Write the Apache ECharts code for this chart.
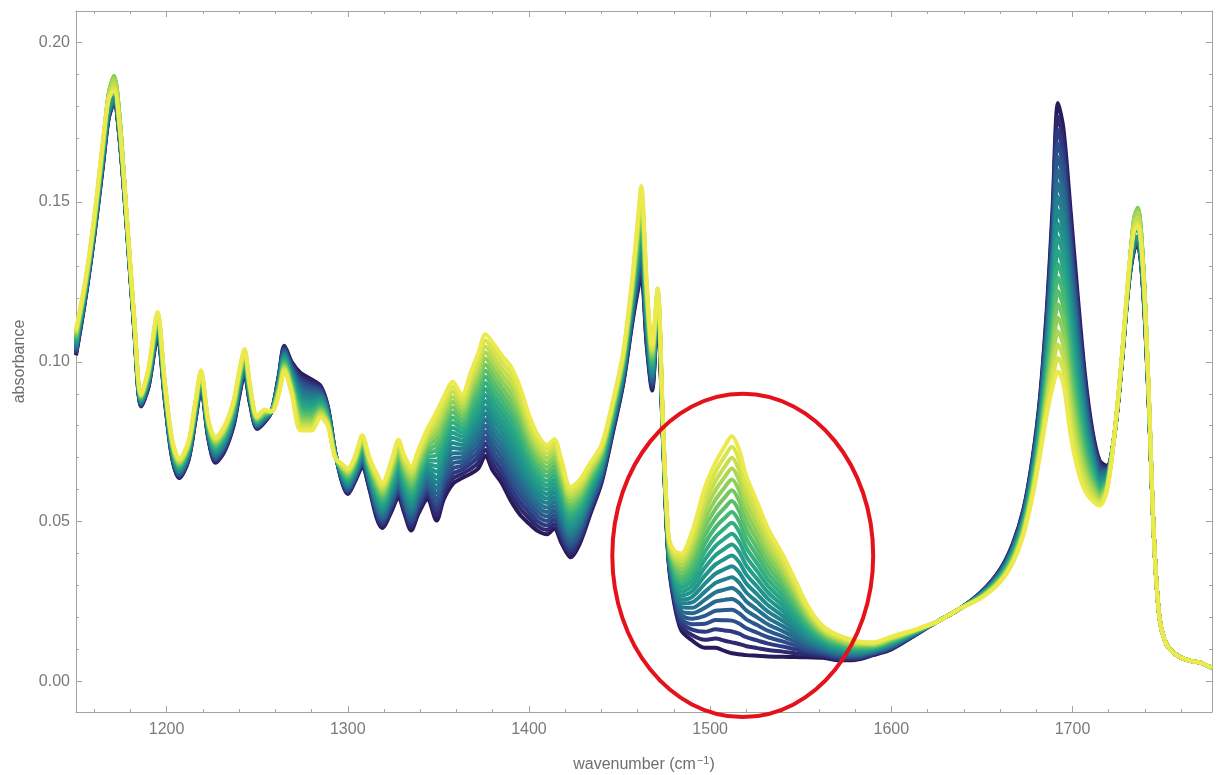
<!DOCTYPE html>
<html>
<head>
<meta charset="utf-8">
<script src="https://cdn.jsdelivr.net/npm/echarts@6/dist/echarts.min.js"></script>
<style>
  html, body { margin: 0; padding: 0; background: #ffffff; }
  #chart { width: 1218px; height: 775px; }
</style>
</head>
<body>
<div id="chart"></div>
<script>
// Wavenumber grid (cm^-1) shared by every scan
const wavenumber = [
  1150,1155,1160,1165,1168,1171,1174,1178,1182,1186,
  1190,1195,1199,1203,1207,1212,1216,1219,1223,1227,
  1232,1237,1240,1243,1246,1250,1254,1258,1262,1265,
  1269,1274,1280,1285,1289,1293,1297,1300,1304,1308,
  1312,1316,1319,1324,1328,1331,1335,1339,1344,1349,
  1353,1358,1363,1368,1372,1376,1380,1385,1390,1395,
  1400,1405,1410,1414,1418,1423,1428,1434,1440,1446,
  1452,1457,1460,1462,1465,1468,1471,1474,1477,1480,
  1484,1490,1497,1503,1508,1512,1516,1520,1526,1532,
  1540,1547,1554,1562,1570,1580,1590,1600,1612,1625,
  1638,1650,1660,1667,1673,1678,1682,1686,1689,1692,
  1695,1699,1703,1707,1711,1715,1719,1723,1727,1731,
  1734,1736,1739,1742,1745,1748,1752,1758,1765,1771,
  1777
];

// Absorbance of each scan, in units of 1e-4, first scan to last
const scan01 = [1020,1190,1390,1620,1760,1810,1700,1420,1110,860,920,1076,880,700,636,690,820,914,760,684,720,800,890,960,870,790,810,845,960,1050,1000,965,945,925,860,720,620,586,625,670,600,510,480,530,576,530,472,525,570,503,570,618,636,650,666,706,660,620,565,522,494,470,460,478,432,388,430,525,620,770,930,1120,1220,1270,1050,910,1150,750,380,250,160,128,105,105,95,88,85,82,80,78,77,76,75,74,66,67,82,100,140,186,228,282,350,430,540,700,885,1180,1480,1810,1730,1470,1200,955,785,690,675,765,980,1240,1350,1365,1220,880,445,200,115,80,64,58,42];
const scan02 = [1024,1193,1393,1624,1763,1812,1702,1422,1112,862,923,1080,883,703,639,693,823,917,763,688,724,804,894,964,873,792,812,845,957,1046,995,956,937,920,857,719,623,590,629,675,605,517,487,538,585,539,482,535,581,520,586,634,649,666,684,725,680,640,586,542,511,485,474,492,445,399,440,533,626,775,935,1127,1231,1284,1060,917,1154,753,384,258,172,145,130,134,127,122,117,110,104,98,93,88,83,79,70,70,84,102,141,186,228,281,348,427,536,694,876,1163,1452,1768,1690,1435,1173,937,774,683,671,765,981,1242,1353,1368,1223,882,445,200,115,80,64,58,42];
const scan03 = [1028,1196,1396,1628,1766,1814,1704,1424,1114,864,926,1084,886,706,642,696,826,920,766,692,728,808,898,968,876,794,814,845,954,1042,990,947,929,915,854,718,626,594,633,680,610,524,494,546,594,548,492,545,592,537,602,650,662,682,702,744,700,660,607,562,528,500,488,506,458,410,450,541,632,780,940,1134,1242,1298,1070,924,1158,756,388,266,184,162,155,163,159,156,149,138,128,118,109,100,91,84,74,73,86,104,142,186,228,280,346,424,532,688,867,1146,1424,1726,1650,1400,1146,919,763,676,667,765,982,1244,1356,1371,1226,884,445,200,115,80,64,58,42];
const scan04 = [1032,1199,1399,1632,1769,1816,1706,1426,1116,866,929,1088,889,709,645,699,829,923,769,696,732,812,902,972,879,796,816,845,951,1038,985,938,921,910,851,717,629,598,637,685,615,531,501,554,603,557,502,555,603,554,618,666,675,698,720,763,720,680,628,582,545,515,502,520,471,421,460,549,638,785,945,1141,1253,1312,1080,931,1162,759,392,274,196,179,180,192,191,190,181,166,152,138,125,112,99,89,78,76,88,106,143,186,228,279,344,421,528,682,858,1129,1396,1684,1610,1365,1119,901,752,669,663,765,983,1246,1359,1374,1229,886,445,200,115,80,64,58,42];
const scan05 = [1036,1202,1402,1636,1772,1818,1708,1428,1118,868,932,1092,892,712,648,702,832,926,772,700,736,816,906,976,882,798,818,845,948,1034,980,929,913,905,848,716,632,602,641,690,620,538,508,562,612,566,512,565,614,571,634,682,688,714,738,782,740,700,649,602,562,530,516,534,484,432,470,557,644,790,950,1148,1264,1326,1090,938,1166,762,396,282,208,196,205,221,223,224,213,194,176,158,141,124,107,94,82,79,90,108,144,186,228,278,342,418,524,676,849,1112,1368,1642,1570,1330,1092,883,741,662,659,765,984,1248,1362,1377,1232,888,445,200,115,80,64,58,42];
const scan06 = [1040,1205,1405,1640,1775,1820,1710,1430,1120,870,935,1096,895,715,651,705,835,929,775,704,740,820,910,980,885,800,820,845,945,1030,975,920,905,900,845,715,635,606,645,695,625,545,515,570,621,575,522,575,625,588,650,698,701,730,756,801,760,720,670,622,579,545,530,548,497,443,480,565,650,795,955,1155,1275,1340,1100,945,1170,765,400,290,220,213,230,250,255,258,245,222,200,178,157,136,115,99,86,82,92,110,145,186,228,277,340,415,520,670,840,1095,1340,1600,1530,1295,1065,865,730,655,655,765,985,1250,1365,1380,1235,890,445,200,115,80,64,58,42];
const scan07 = [1044,1208,1408,1644,1778,1822,1712,1432,1122,872,938,1100,898,718,654,708,838,932,778,708,744,824,914,984,888,802,822,845,942,1026,970,911,897,895,842,714,638,610,649,700,630,552,522,578,630,584,532,585,636,605,666,714,714,746,774,820,780,740,691,642,596,560,544,562,510,454,490,573,656,800,960,1162,1286,1354,1110,952,1174,768,404,298,232,230,255,279,287,292,277,250,224,198,173,148,123,104,90,85,94,112,146,186,228,276,338,412,516,664,831,1078,1312,1558,1490,1260,1038,847,719,648,651,765,986,1252,1368,1383,1238,892,445,200,115,80,64,58,42];
const scan08 = [1048,1211,1411,1648,1781,1824,1714,1434,1124,874,941,1104,901,721,657,711,841,935,781,712,748,828,918,988,891,804,824,845,939,1022,965,902,889,890,839,713,641,614,653,705,635,559,529,586,639,593,542,595,647,622,682,730,727,762,792,839,800,760,712,662,613,575,558,576,523,465,500,581,662,805,965,1169,1297,1368,1120,959,1178,771,408,306,244,247,280,308,319,326,309,278,248,218,189,160,131,109,94,88,96,114,147,186,228,275,336,409,512,658,822,1061,1284,1516,1450,1225,1011,829,708,641,647,765,987,1254,1371,1386,1241,894,445,200,115,80,64,58,42];
const scan09 = [1052,1214,1414,1652,1784,1826,1716,1436,1126,876,944,1108,904,724,660,714,844,938,784,716,752,832,922,992,894,806,826,845,936,1018,960,893,881,885,836,712,644,618,657,710,640,566,536,594,648,602,552,605,658,639,698,746,740,778,810,858,820,780,733,682,630,590,572,590,536,476,510,589,668,810,970,1176,1308,1382,1130,966,1182,774,412,314,256,264,305,337,351,360,341,306,272,238,205,172,139,114,98,91,98,116,148,186,228,274,334,406,508,652,813,1044,1256,1474,1410,1190,984,811,697,634,643,765,988,1256,1374,1389,1244,896,445,200,115,80,64,58,42];
const scan10 = [1056,1217,1417,1656,1787,1828,1718,1438,1128,878,947,1112,907,727,663,717,847,941,787,720,756,836,926,996,897,808,828,845,933,1014,955,884,873,880,833,711,647,622,661,715,645,573,543,602,657,611,562,615,669,656,714,762,753,794,828,877,840,800,754,702,647,605,586,604,549,487,520,597,674,815,975,1183,1319,1396,1140,973,1186,777,416,322,268,281,330,366,383,394,373,334,296,258,221,184,147,119,102,94,100,118,149,186,228,273,332,403,504,646,804,1027,1228,1432,1370,1155,957,793,686,627,639,765,989,1258,1377,1392,1247,898,445,200,115,80,64,58,42];
const scan11 = [1060,1220,1420,1660,1802,1850,1734,1440,1130,880,950,1116,910,730,666,720,850,944,790,724,760,840,930,1000,900,810,830,845,930,1010,950,875,865,875,830,710,650,626,665,720,650,580,550,610,666,620,572,625,680,673,730,778,766,810,846,896,860,820,775,722,664,620,600,618,562,498,530,605,680,820,980,1190,1330,1410,1150,980,1190,780,420,330,280,298,355,395,415,428,405,362,320,278,237,196,155,124,106,97,102,120,150,186,228,272,330,400,500,640,795,1010,1200,1390,1330,1120,930,775,675,620,635,765,990,1260,1400,1421,1266,900,445,200,115,80,64,58,42];
const scan12 = [1064,1223,1423,1664,1811,1862,1743,1442,1132,882,953,1120,913,733,669,723,853,947,793,728,764,844,934,1004,903,812,832,845,927,1006,945,866,857,870,827,709,653,630,669,725,655,587,557,618,675,629,582,635,691,690,746,794,779,826,864,915,880,840,796,742,681,635,614,632,575,509,540,613,686,825,985,1197,1341,1424,1160,987,1194,783,424,338,292,315,380,424,447,462,437,390,344,298,253,208,163,129,110,100,104,122,151,186,228,271,328,397,496,634,786,993,1172,1348,1290,1085,903,757,664,613,631,765,991,1262,1413,1437,1277,902,445,200,115,80,64,58,42];
const scan13 = [1068,1226,1426,1668,1820,1874,1752,1444,1134,884,956,1124,916,736,672,726,856,950,796,732,768,848,938,1008,906,814,834,845,924,1002,940,857,849,865,824,708,656,634,673,730,660,594,564,626,684,638,592,645,702,707,762,810,792,842,882,934,900,860,817,762,698,650,628,646,588,520,550,621,692,830,990,1204,1352,1438,1170,994,1198,786,428,346,304,332,405,453,479,496,469,418,368,318,269,220,171,134,114,103,106,124,152,186,228,270,326,394,492,628,777,976,1144,1306,1250,1050,876,739,653,606,627,765,992,1264,1426,1453,1288,904,445,200,115,80,64,58,42];
const scan14 = [1072,1229,1429,1672,1829,1886,1761,1446,1136,886,959,1128,919,739,675,729,859,953,799,736,772,852,942,1012,909,816,836,845,921,998,935,848,841,860,821,707,659,638,677,735,665,601,571,634,693,647,602,655,713,724,778,826,805,858,900,953,920,880,838,782,715,665,642,660,601,531,560,629,698,835,995,1211,1363,1452,1180,1001,1202,789,432,354,316,349,430,482,511,530,501,446,392,338,285,232,179,139,118,106,108,126,153,186,228,269,324,391,488,622,768,959,1116,1264,1210,1015,849,721,642,599,623,765,993,1266,1439,1469,1299,906,445,200,115,80,64,58,42];
const scan15 = [1076,1232,1432,1676,1835,1893,1767,1448,1138,888,962,1132,922,742,678,732,862,956,802,740,776,856,946,1016,912,818,838,845,918,994,930,839,833,855,818,706,662,642,681,740,670,608,578,642,702,656,612,665,724,741,794,842,818,874,918,972,940,900,859,802,732,680,656,674,614,542,570,637,704,840,1000,1218,1374,1466,1190,1008,1206,792,436,362,328,366,455,511,543,564,533,474,416,358,301,244,187,144,122,109,110,128,154,186,228,268,322,388,484,616,759,942,1088,1222,1170,980,822,703,631,592,619,765,994,1268,1447,1479,1306,908,445,200,115,80,64,58,42];
const scan16 = [1080,1235,1435,1680,1838,1895,1769,1450,1140,890,965,1136,925,745,681,735,865,959,805,744,780,860,950,1020,915,820,840,845,915,990,925,830,825,850,815,705,665,646,685,745,675,615,585,650,711,665,622,675,735,758,810,858,831,890,936,991,960,920,880,822,749,695,670,688,627,553,580,645,710,845,1005,1225,1385,1480,1200,1015,1210,795,440,370,340,383,480,540,575,598,565,502,440,378,317,256,195,149,126,112,112,130,155,186,228,267,320,385,480,610,750,925,1060,1180,1130,945,795,685,620,585,615,765,995,1270,1450,1482,1309,910,445,200,115,80,64,58,42];
const scan17 = [1084,1238,1438,1684,1838,1892,1767,1452,1142,892,968,1140,928,748,684,738,868,962,808,748,784,864,954,1024,918,822,842,845,912,986,920,821,817,845,812,704,668,650,689,750,680,622,592,658,720,674,632,685,746,775,826,874,844,906,954,1010,980,940,901,842,766,710,684,702,640,564,590,653,716,850,1010,1232,1396,1494,1210,1022,1214,798,444,378,352,400,505,569,607,632,597,530,464,398,333,268,203,154,130,115,114,132,156,186,228,266,318,382,476,604,741,908,1032,1138,1090,910,768,667,609,578,611,765,996,1272,1448,1478,1308,912,445,200,115,80,64,58,42];
const scan18 = [1088,1241,1441,1688,1835,1884,1762,1454,1144,894,971,1144,931,751,687,741,871,965,811,752,788,868,958,1028,921,824,844,845,909,982,915,812,809,840,809,703,671,654,693,755,685,629,599,666,729,683,642,695,757,792,842,890,857,922,972,1029,1000,960,922,862,783,725,698,716,653,575,600,661,722,855,1015,1239,1407,1508,1220,1029,1218,801,448,386,364,417,530,598,639,666,629,558,488,418,349,280,211,159,134,118,116,134,157,186,228,265,316,379,472,598,732,891,1004,1096,1050,875,741,649,598,571,607,765,997,1274,1441,1468,1303,914,445,200,115,80,64,58,42];
const scan19 = [1092,1244,1444,1692,1829,1871,1754,1456,1146,896,974,1148,934,754,690,744,874,968,814,756,792,872,962,1032,924,826,846,845,906,978,910,803,801,835,806,702,674,658,697,760,690,636,606,674,738,692,652,705,768,809,858,906,870,938,990,1048,1020,980,943,882,800,740,712,730,666,586,610,669,728,860,1020,1246,1418,1522,1230,1036,1222,804,452,394,376,434,555,627,671,700,661,586,512,438,365,292,219,164,138,121,118,136,158,186,228,264,314,376,468,592,723,874,976,1054,1010,840,714,631,587,564,603,765,998,1276,1429,1452,1294,916,445,200,115,80,64,58,42];
const scan20 = [1096,1247,1447,1696,1823,1858,1745,1458,1148,898,977,1152,937,757,693,747,877,971,817,760,796,876,966,1036,927,828,848,845,903,974,905,794,793,830,803,701,677,662,701,765,695,643,613,682,747,701,662,715,779,826,874,922,883,954,1008,1067,1040,1000,964,902,817,755,726,744,679,597,620,677,734,865,1025,1253,1429,1536,1240,1043,1226,807,456,402,388,451,580,656,703,734,693,614,536,458,381,304,227,169,142,124,120,138,159,186,228,263,312,373,464,586,714,857,948,1012,970,805,687,613,576,557,599,765,999,1278,1417,1435,1285,918,445,200,115,80,64,58,42];
const scan21 = [1100,1250,1450,1700,1820,1850,1740,1460,1150,900,980,1156,940,760,696,750,880,974,820,764,800,880,970,1040,930,830,850,845,900,970,900,785,785,825,800,700,680,666,705,770,700,650,620,690,756,710,672,725,790,843,890,938,896,970,1026,1086,1060,1020,985,922,834,770,740,758,692,608,630,685,740,870,1030,1260,1440,1550,1250,1050,1230,810,460,410,400,468,605,685,735,768,725,642,560,478,397,316,235,174,146,127,122,140,160,186,228,262,310,370,460,580,705,840,920,970,930,770,660,595,565,550,595,765,1000,1280,1410,1425,1280,920,445,200,115,80,64,58,42];

const scans = [scan01, scan02, scan03, scan04, scan05, scan06, scan07, scan08, scan09, scan10,
               scan11, scan12, scan13, scan14, scan15, scan16, scan17, scan18, scan19, scan20, scan21];
const ABS_UNIT = 1e-4;

// Axis ticks
const xMajorTicks = [1200, 1300, 1400, 1500, 1600, 1700];
const xMinorTicks = [1160, 1180, 1220, 1240, 1260, 1280, 1320, 1340, 1360, 1380, 1420, 1440, 1460, 1480,
                     1520, 1540, 1560, 1580, 1620, 1640, 1660, 1680, 1720, 1740, 1760];
const yMajorTicks = [0, 0.05, 0.10, 0.15, 0.20];
const yMinorTicks = [0.01, 0.02, 0.03, 0.04, 0.06, 0.07, 0.08, 0.09, 0.11, 0.12, 0.13, 0.14,
                     0.16, 0.17, 0.18, 0.19];

const X_MIN = 1150, X_MAX = 1777;
const Y_MIN = -0.0096, Y_MAX = 0.2098;

// Highlight ring around the band near 1515 cm^-1 (data coordinates)
const ring = { cx: 1518, cy: 0.0394, halfWidth: 72, halfHeight: 0.0506 };

// Scan colours: dark indigo (first) through blue, teal and green to yellow (last)
const colorStops = [
  [0.00, '#2a1a5a'], [0.07, '#2e3079'], [0.16, '#2c4f8c'], [0.28, '#26708f'],
  [0.42, '#1f8f8c'], [0.56, '#29a785'], [0.68, '#4dbb70'], [0.80, '#8ecf5a'],
  [0.90, '#c6de4d'], [1.00, '#ebe94b']
];
function hexToRgb(h) {
  return [parseInt(h.slice(1, 3), 16), parseInt(h.slice(3, 5), 16), parseInt(h.slice(5, 7), 16)];
}
function scanColor(t) {
  for (let i = 1; i < colorStops.length; i++) {
    if (t <= colorStops[i][0] + 1e-9) {
      const [t0, c0] = colorStops[i - 1];
      const [t1, c1] = colorStops[i];
      const u = (t - t0) / (t1 - t0);
      const a = hexToRgb(c0), b = hexToRgb(c1);
      const m = a.map((v, k) => Math.round(v + (b[k] - v) * u));
      return `rgb(${m[0]},${m[1]},${m[2]})`;
    }
  }
  return colorStops[colorStops.length - 1][1];
}

const frameColor = '#a3a3a3';
const labelColor = '#7a7a7a';
const fontFamily = 'Liberation Sans, Arial, sans-serif';

function tickAxis(kind, position, ticks, len, withLine) {
  const isX = kind === 'x';
  return {
    type: 'value',
    position: position,
    min: isX ? X_MIN : Y_MIN,
    max: isX ? X_MAX : Y_MAX,
    axisLine: { show: withLine, onZero: false, lineStyle: { color: frameColor, width: 1 } },
    axisTick: { show: true, inside: true, length: len, customValues: ticks,
                lineStyle: { color: frameColor, width: 1 } },
    axisLabel: { show: false },
    splitLine: { show: false },
    silent: true
  };
}

const xMain = tickAxis('x', 'bottom', xMajorTicks, 6, true);
xMain.axisLabel = { show: true, customValues: xMajorTicks, color: labelColor, fontSize: 16,
                    fontFamily: fontFamily, margin: 10, formatter: v => String(v) };
xMain.name = 'wavenumber (cm{sup|\u22121})';
xMain.nameLocation = 'middle';
xMain.nameGap = 43;
xMain.nameTextStyle = {
  color: '#6e6e6e', fontSize: 16, fontFamily: fontFamily,
  rich: { sup: { fontSize: 11, color: '#6e6e6e', fontFamily: fontFamily,
                 verticalAlign: 'bottom', padding: [0, 0, 9, 1] } }
};

const yMain = tickAxis('y', 'left', yMajorTicks, 6, true);
yMain.axisLabel = { show: true, customValues: yMajorTicks, color: labelColor, fontSize: 16,
                    fontFamily: fontFamily, margin: 6, formatter: v => v.toFixed(2) };
yMain.name = 'absorbance';
yMain.nameLocation = 'middle';
yMain.nameGap = 48;
yMain.nameTextStyle = { color: '#6e6e6e', fontSize: 16, fontFamily: fontFamily };

const option = {
  backgroundColor: '#ffffff',
  animation: false,
  grid: { left: 76, right: 6, top: 11, bottom: 63, containLabel: false, outerBoundsMode: 'none' },
  xAxis: [
    xMain,
    tickAxis('x', 'bottom', xMinorTicks, 3, false),
    tickAxis('x', 'top', xMajorTicks, 6, true),
    tickAxis('x', 'top', xMinorTicks, 3, false)
  ],
  yAxis: [
    yMain,
    tickAxis('y', 'left', yMinorTicks, 3, false),
    tickAxis('y', 'right', yMajorTicks, 6, true),
    tickAxis('y', 'right', yMinorTicks, 3, false)
  ],
  series: scans.map((scan, i) => ({
    type: 'line',
    xAxisIndex: 0,
    yAxisIndex: 0,
    data: wavenumber.map((w, j) => [w, scan[j] * ABS_UNIT]),
    showSymbol: false,
    symbol: 'none',
    smooth: 0.3,
    silent: true,
    lineStyle: { width: 4, color: scanColor(i / (scans.length - 1)) }
  }))
};

const chart = echarts.init(document.getElementById('chart'), null, { renderer: 'canvas' });
chart.setOption(option);

// Red ring drawn over the plot, positioned through the axes
const finder = { xAxisIndex: 0, yAxisIndex: 0 };
const c = chart.convertToPixel(finder, [ring.cx, ring.cy]);
const e = chart.convertToPixel(finder, [ring.cx + ring.halfWidth, ring.cy + ring.halfHeight]);
chart.setOption({
  graphic: [{
    type: 'ellipse',
    silent: true,
    z: 100,
    shape: { cx: c[0], cy: c[1], rx: Math.abs(e[0] - c[0]), ry: Math.abs(c[1] - e[1]) },
    style: { fill: null, stroke: '#e5121c', lineWidth: 4 }
  }]
});
</script>
</body>
</html>
